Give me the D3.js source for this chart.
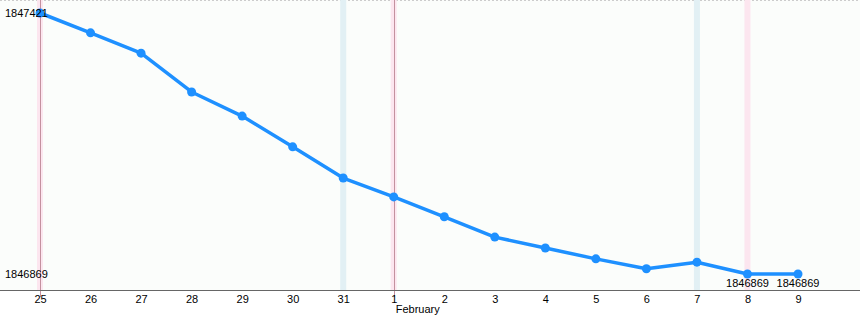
<!DOCTYPE html>
<html lang="en">
<head>
    <meta charset="UTF-8">
    <title>Chart</title>
    <script src="https://cdn.jsdelivr.net/npm/d3@7/dist/d3.min.js"></script>
    <style>
        body { margin: 0; background: #fff; }
        svg { display: block; font-family: "Liberation Sans", Arial, sans-serif; }
        .x-axis .domain { stroke: #666; }
        .x-axis .tick text { font-size: 11px; fill: #000; }
        .val-label { font-size: 11px; fill: #000; }
    </style>
</head>
<body>
<svg width="860" height="320"></svg>
<script>
    // data
    var dates = ['2015-01-25', '2015-01-26', '2015-01-27', '2015-01-28', '2015-01-29', '2015-01-30', '2015-01-31',
                 '2015-02-01', '2015-02-02', '2015-02-03', '2015-02-04', '2015-02-05', '2015-02-06', '2015-02-07',
                 '2015-02-08', '2015-02-09'];
    var values = [1847421, 1847379, 1847336, 1847254, 1847203, 1847138, 1847072,
                  1847032, 1846990, 1846947, 1846924, 1846901, 1846880, 1846894,
                  1846869, 1846869];
    var saturdays = ['2015-01-31', '2015-02-07'];
    var sundays = ['2015-01-25', '2015-02-01', '2015-02-08'];
    var markerDays = ['2015-01-25', '2015-02-01'];
    var monthLabels = [{ date: '2015-02-01', text: 'February' }];
    var yLabels = [1847421, 1846869];
    var pointLabelDays = ['2015-02-08', '2015-02-09'];

    var parse = d3.utcParse('%Y-%m-%d');
    var data = dates.map(function(d, i) {
        return { date: parse(d), value: values[i], key: d };
    });

    var svg = d3.select('svg'),
        width = 860,
        axisY = 290;

    var xScale = d3.scaleUtc()
        .domain([parse(dates[0]), parse(dates[dates.length - 1])])
        .range([40, 798]);
    var yScale = d3.scaleLinear()
        .domain([d3.min(values), d3.max(values)])
        .range([274, 13]);

    // plot background
    svg.append('rect')
        .attr('x', 0).attr('y', 0)
        .attr('width', width).attr('height', axisY)
        .attr('fill', '#fbfdfb');
    svg.append('line')
        .attr('x1', 0).attr('x2', width)
        .attr('y1', 0.5).attr('y2', 0.5)
        .attr('stroke', '#ccc')
        .attr('stroke-dasharray', '2,2');

    // weekend bands
    svg.selectAll('.sat-band')
        .data(saturdays)
        .enter()
        .append('rect')
        .classed('sat-band', true)
        .attr('x', function(d) { return xScale(parse(d)) - 3; })
        .attr('y', 0)
        .attr('width', 6)
        .attr('height', axisY)
        .attr('fill', '#e2f0f4');

    svg.selectAll('.sun-band')
        .data(sundays)
        .enter()
        .append('rect')
        .classed('sun-band', true)
        .attr('x', function(d) { return xScale(parse(d)) - 3; })
        .attr('y', 0)
        .attr('width', 6)
        .attr('height', axisY)
        .attr('fill', '#fce6ef');

    svg.selectAll('.marker-line')
        .data(markerDays)
        .enter()
        .append('line')
        .classed('marker-line', true)
        .attr('x1', function(d) { return Math.round(xScale(parse(d))) + 0.5; })
        .attr('x2', function(d) { return Math.round(xScale(parse(d))) + 0.5; })
        .attr('y1', 0)
        .attr('y2', axisY + 7)
        .attr('stroke', '#c4919f')
        .attr('stroke-width', 1);

    // x axis
    var xAxis = d3.axisBottom(xScale)
        .tickValues(data.map(function(d) { return d.date; }))
        .tickSize(0)
        .tickPadding(5)
        .tickFormat(d3.utcFormat('%-d'));

    svg.append('g')
        .classed('x-axis', true)
        .attr('transform', 'translate(0,' + axisY + ')')
        .call(xAxis)
        .select('.domain')
        .attr('d', 'M0,0.5H' + width);

    svg.selectAll('.month-label')
        .data(monthLabels)
        .enter()
        .append('text')
        .classed('val-label', true)
        .attr('x', function(d) { return xScale(parse(d.date)) + 2; })
        .attr('y', 313)
        .text(function(d) { return d.text; });

    // line + points
    var line = d3.line()
        .x(function(d) { return xScale(d.date); })
        .y(function(d) { return yScale(d.value); });

    svg.append('path')
        .datum(data)
        .attr('d', line)
        .attr('fill', 'none')
        .attr('stroke', '#1e90ff')
        .attr('stroke-width', 3.5)
        .attr('stroke-linejoin', 'round');

    svg.selectAll('.dot')
        .data(data)
        .enter()
        .append('circle')
        .classed('dot', true)
        .attr('cx', function(d) { return xScale(d.date); })
        .attr('cy', function(d) { return yScale(d.value); })
        .attr('r', 4.5)
        .attr('fill', '#1e90ff');

    // y labels
    svg.selectAll('.y-label')
        .data(yLabels)
        .enter()
        .append('text')
        .classed('val-label', true)
        .attr('x', 5)
        .attr('y', function(d) { return yScale(d) + 4; })
        .text(function(d) { return d; });

    // point labels
    svg.selectAll('.pt-label')
        .data(data.filter(function(d) { return pointLabelDays.indexOf(d.key) >= 0; }))
        .enter()
        .append('text')
        .classed('val-label', true)
        .attr('x', function(d) { return xScale(d.date); })
        .attr('y', function(d) { return yScale(d.value) + 13; })
        .attr('text-anchor', 'middle')
        .text(function(d) { return d.value; });
</script>
</body>
</html>
